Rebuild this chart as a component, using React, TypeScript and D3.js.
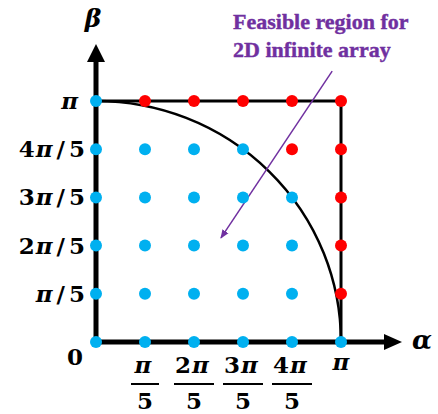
import * as d3 from 'd3'

// grid steps in units of π/5
const alphaSteps = [0, 1, 2, 3, 4, 5]
const betaSteps = [0, 1, 2, 3, 4, 5]
const yTickLabels = ['0', 'π/5', '2π/5', '3π/5', '4π/5', 'π']
const xTickLabels = ['0', 'π/5', '2π/5', '3π/5', '4π/5', 'π']
const annotationLines = ['Feasible region for', '2D infinite array']
// arrow of the annotation, in (α, β) units of π/5
const annotationFrom = [4.82, 5.62]
const annotationTo = [2.55, 2.16]

const BLUE = '#00b0f0'
const RED = '#ff0000'
const PURPLE = '#7030a0'
const FONT = '"DejaVu Serif", "Liberation Serif", serif'
const FS = 23

function FracLabel({ label, xPos, yPos }: { label: string; xPos: number; yPos: number }) {
  const [num, den] = label.split('/')
  const digit = num.replace('π', '')
  return (
    <text x={xPos} y={yPos} textAnchor="end" fontFamily={FONT} fontWeight="bold" fontSize={FS}>
      {digit && <tspan>{digit}</tspan>}
      <tspan fontStyle="italic" dx={digit ? 1 : 0}>π</tspan>
      {den && <tspan dx={4}>/</tspan>}
      {den && <tspan dx={4}>{den}</tspan>}
    </text>
  )
}

export default function App() {
  const W = 438
  const H = 414
  const x = d3.scaleLinear().domain([0, 5]).range([96, 341])
  const y = d3.scaleLinear().domain([0, 5]).range([342, 101])

  const points = betaSteps.flatMap((b) => alphaSteps.map((a) => ({ a, b, ok: a * a + b * b <= 25 })))

  const rx = x(5) - x(0)
  const ry = y(0) - y(5)
  const arcPath = `M${x(0)},${y(5)} A${rx},${ry} 0 0 1 ${x(5)},${y(0)}`

  const ax0 = x(0)
  const ay0 = y(0)

  return (
    <svg width={W} height={H} style={{ position: 'absolute', left: 0, top: 0, background: '#fff' }}>
      <defs>
        <marker id="pArrow" viewBox="0 0 10 10" refX="9" refY="5" markerWidth="6" markerHeight="6" orient="auto">
          <path d="M0,1 L10,5 L0,9 z" fill={PURPLE} />
        </marker>
      </defs>

      {/* box */}
      <line x1={x(0)} x2={x(5)} y1={y(5)} y2={y(5)} stroke="#000" strokeWidth={3} />
      <line x1={x(5)} x2={x(5)} y1={y(5) - 1.5} y2={y(0)} stroke="#000" strokeWidth={3} />

      {/* feasible boundary */}
      <path d={arcPath} fill="none" stroke="#000" strokeWidth={2.5} />

      {/* axes */}
      <line x1={ax0} x2={ax0} y1={ay0 + 3} y2={60} stroke="#000" strokeWidth={5} />
      <path d={`M${ax0},44 L${ax0 - 9},62 L${ax0 + 9},62 Z`} fill="#000" />
      <line x1={ax0 - 2.5} x2={386} y1={ay0} y2={ay0} stroke="#000" strokeWidth={5} />
      <path d={`M402,${ay0} L384,${ay0 - 8} L384,${ay0 + 8} Z`} fill="#000" />

      {/* annotation */}
      <line
        x1={x(annotationFrom[0])} y1={y(annotationFrom[1])}
        x2={x(annotationTo[0])} y2={y(annotationTo[1])}
        stroke={PURPLE} strokeWidth={1.5} markerEnd="url(#pArrow)"
      />
      {annotationLines.map((t, i) => (
        <text key={t} x={233} y={29 + i * 28} fill={PURPLE} stroke={PURPLE} strokeWidth={0.4}
          fontFamily='"Liberation Serif", serif' fontWeight="bold" fontSize={22}>
          {t}
        </text>
      ))}

      {/* grid points */}
      {points.map((p) => (
        <circle key={`${p.a}-${p.b}`} cx={x(p.a)} cy={y(p.b)} r={6} fill={p.ok ? BLUE : RED} />
      ))}

      {/* y tick labels */}
      {betaSteps.slice(1).map((b) => (
        <FracLabel key={b} label={yTickLabels[b]} xPos={b === 5 ? 78 : 85} yPos={y(b) + 8} />
      ))}
      <text x={75} y={365} textAnchor="middle" fontFamily={FONT} fontWeight="bold" fontSize={FS}>
        {yTickLabels[0]}
      </text>

      {/* x tick labels as stacked fractions */}
      {alphaSteps.slice(1).map((a) => {
        const [num, den] = xTickLabels[a].split('/')
        const digit = num.replace('π', '')
        if (!den) {
          return (
            <text key={a} x={x(a)} y={370} textAnchor="middle" fontFamily={FONT} fontWeight="bold" fontStyle="italic" fontSize={FS}>
              π
            </text>
          )
        }
        const bw = digit ? 40 : 28
        return (
          <g key={a}>
            <text x={x(a) - 2} y={373} textAnchor="middle" fontFamily={FONT} fontWeight="bold" fontSize={FS}>
              {digit && <tspan>{digit}</tspan>}
              <tspan fontStyle="italic" dx={digit ? 1 : 0}>π</tspan>
            </text>
            <line x1={x(a) - bw / 2} x2={x(a) + bw / 2} y1={384} y2={384} stroke="#000" strokeWidth={2} />
            <text x={x(a)} y={409} textAnchor="middle" fontFamily={FONT} fontWeight="bold" fontSize={FS}>
              {den}
            </text>
          </g>
        )
      })}

      {/* axis titles */}
      <text x={93} y={27} textAnchor="middle" fontFamily={FONT} fontWeight="bold" fontStyle="italic" fontSize={25}>
        β
      </text>
      <text x={412} y={349} fontFamily={FONT} fontWeight="bold" fontStyle="italic" fontSize={26}>
        α
      </text>
    </svg>
  )
}
